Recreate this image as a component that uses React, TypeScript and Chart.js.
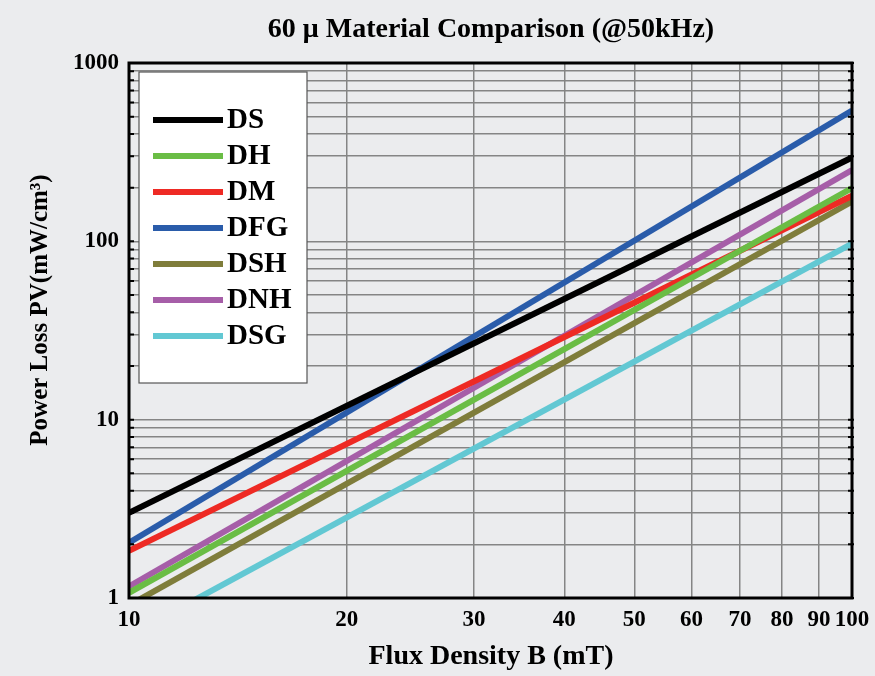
import React, { useEffect, useRef } from "react";
import { Chart, registerables } from "chart.js";

Chart.register(...registerables);

// Data (log-log straight lines, endpoints at B = 10 and 100 mT)
const fluxDensity = [10, 100];
const seriesNames = ["DS", "DH", "DM", "DFG", "DSH", "DNH", "DSG"];
const DS = [3.0, 295];
const DH = [1.07, 199];
const DM = [1.84, 180];
const DFG = [2.04, 541];
const DSH = [0.91, 167];
const DNH = [1.16, 251];
const DSG = [0.616, 97];
const seriesColors = ["#000000", "#6abd45", "#ee2a24", "#2a5caa", "#7f7d3b", "#a65ea8", "#62c8d3"];

const xTicks = [10, 20, 30, 40, 50, 60, 70, 80, 90, 100];
const yTicks = [
  1, 2, 3, 4, 5, 6, 7, 8, 9,
  10, 20, 30, 40, 50, 60, 70, 80, 90,
  100, 200, 300, 400, 500, 600, 700, 800, 900,
  1000,
];
const yLabelValues = [1, 10, 100, 1000];

const titleText = "60 \u03bc Material Comparison (@50kHz)";
const xTitle = "Flux Density B (mT)";
const yTitle = "Power Loss PV(mW/cm\u00b3)";

const FONT = "'Liberation Serif', 'Times New Roman', serif";
const GRID = "#858585";

const decorPlugin = {
  id: "decor",
  afterDatasetsDraw(chart: any) {
    const { ctx, chartArea } = chart;
    const { left, right, top, bottom } = chartArea;
    const yScale = chart.scales.y;
    ctx.save();
    // frame
    ctx.strokeStyle = "#000";
    ctx.lineWidth = 3;
    ctx.strokeRect(left, top, right - left, bottom - top);
    // inner ticks on left and right
    ctx.lineWidth = 2;
    yTicks.forEach((v) => {
      const py = yScale.getPixelForValue(v);
      ctx.beginPath();
      ctx.moveTo(left, py);
      ctx.lineTo(left + 5, py);
      ctx.moveTo(right - 4, py);
      ctx.lineTo(right + 2, py);
      ctx.stroke();
    });
    // legend box
    const bx = 139, by = 72, bw = 168, bh = 311;
    ctx.fillStyle = "#ffffff";
    ctx.fillRect(bx, by, bw, bh);
    ctx.strokeStyle = "#555";
    ctx.lineWidth = 1.2;
    ctx.strokeRect(bx, by, bw, bh);
    chart.data.datasets.forEach((ds: any, i: number) => {
      const cy = 120 + i * 36;
      ctx.strokeStyle = ds.borderColor;
      ctx.lineWidth = 6;
      ctx.lineCap = "butt";
      ctx.beginPath();
      ctx.moveTo(153, cy);
      ctx.lineTo(223, cy);
      ctx.stroke();
      ctx.fillStyle = "#000";
      ctx.font = `bold 29px ${FONT}`;
      ctx.textAlign = "left";
      ctx.textBaseline = "middle";
      ctx.fillText(ds.label, 227, cy + 1);
    });
    ctx.restore();
  },
  afterDraw(chart: any) {
    const { ctx } = chart;
    ctx.save();
    ctx.fillStyle = "#000";
    ctx.textAlign = "center";
    ctx.textBaseline = "middle";
    ctx.font = `bold 28px ${FONT}`;
    ctx.fillText(titleText, 491, 30);
    ctx.font = `bold 28px ${FONT}`;
    ctx.fillText(xTitle, 491, 657);
    ctx.font = `bold 25px ${FONT}`;
    ctx.translate(41, 310);
    ctx.rotate(-Math.PI / 2);
    ctx.fillText(yTitle, 0, 0);
    ctx.restore();
  },
};

export default function App() {
  const canvasRef = useRef<HTMLCanvasElement | null>(null);

  useEffect(() => {
    const canvas = canvasRef.current;
    if (!canvas) return;
    const values = [DS, DH, DM, DFG, DSH, DNH, DSG];
    const chart = new Chart(canvas, {
      type: "line",
      data: {
        datasets: seriesNames.map((name, i) => ({
          label: name,
          data: fluxDensity.map((x, j) => ({ x, y: values[i][j] })),
          borderColor: seriesColors[i],
          backgroundColor: seriesColors[i],
          borderWidth: 6,
          pointRadius: 0,
          fill: false,
          tension: 0,
          clip: 0,
          borderCapStyle: "butt",
        })),
      },
      options: {
        responsive: false,
        animation: false,
        layout: { padding: { top: 63, right: 23, left: 0, bottom: 0 } },
        plugins: {
          legend: { display: false },
          title: { display: false },
          tooltip: { enabled: false },
        },
        scales: {
          x: {
            type: "logarithmic",
            min: 10,
            max: 100,
            afterBuildTicks: (scale: any) => {
              scale.ticks = xTicks.map((v) => ({ value: v }));
            },
            afterFit: (scale: any) => {
              scale.height = 78;
              scale.paddingLeft = 0;
              scale.paddingRight = 0;
            },
            grid: { color: GRID, lineWidth: 1.5, drawTicks: false },
            border: { display: false },
            ticks: {
              autoSkip: false,
              maxRotation: 0,
              padding: 8,
              color: "#000",
              font: { family: FONT, size: 23, weight: "bold" },
              callback: (v: any) => String(v),
            },
          },
          y: {
            type: "logarithmic",
            min: 1,
            max: 1000,
            afterBuildTicks: (scale: any) => {
              scale.ticks = yTicks.map((v) => ({ value: v }));
            },
            afterFit: (scale: any) => {
              scale.width = 129;
              scale.paddingTop = 0;
              scale.paddingBottom = 0;
            },
            grid: { color: GRID, lineWidth: 1.5, drawTicks: false },
            border: { display: false },
            ticks: {
              autoSkip: false,
              padding: 10,
              color: "#000",
              font: { family: FONT, size: 23, weight: "bold" },
              callback: (v: any) => (yLabelValues.includes(Number(v)) ? String(v) : ""),
            },
          },
        },
      },
      plugins: [decorPlugin],
    } as any);
    return () => chart.destroy();
  }, []);

  return (
    <div
      style={{
        position: "absolute",
        left: 0,
        top: 0,
        width: 875,
        height: 676,
        background: "#ebecee",
      }}
    >
      <canvas ref={canvasRef} width={875} height={676} style={{ display: "block" }} />
    </div>
  );
}
